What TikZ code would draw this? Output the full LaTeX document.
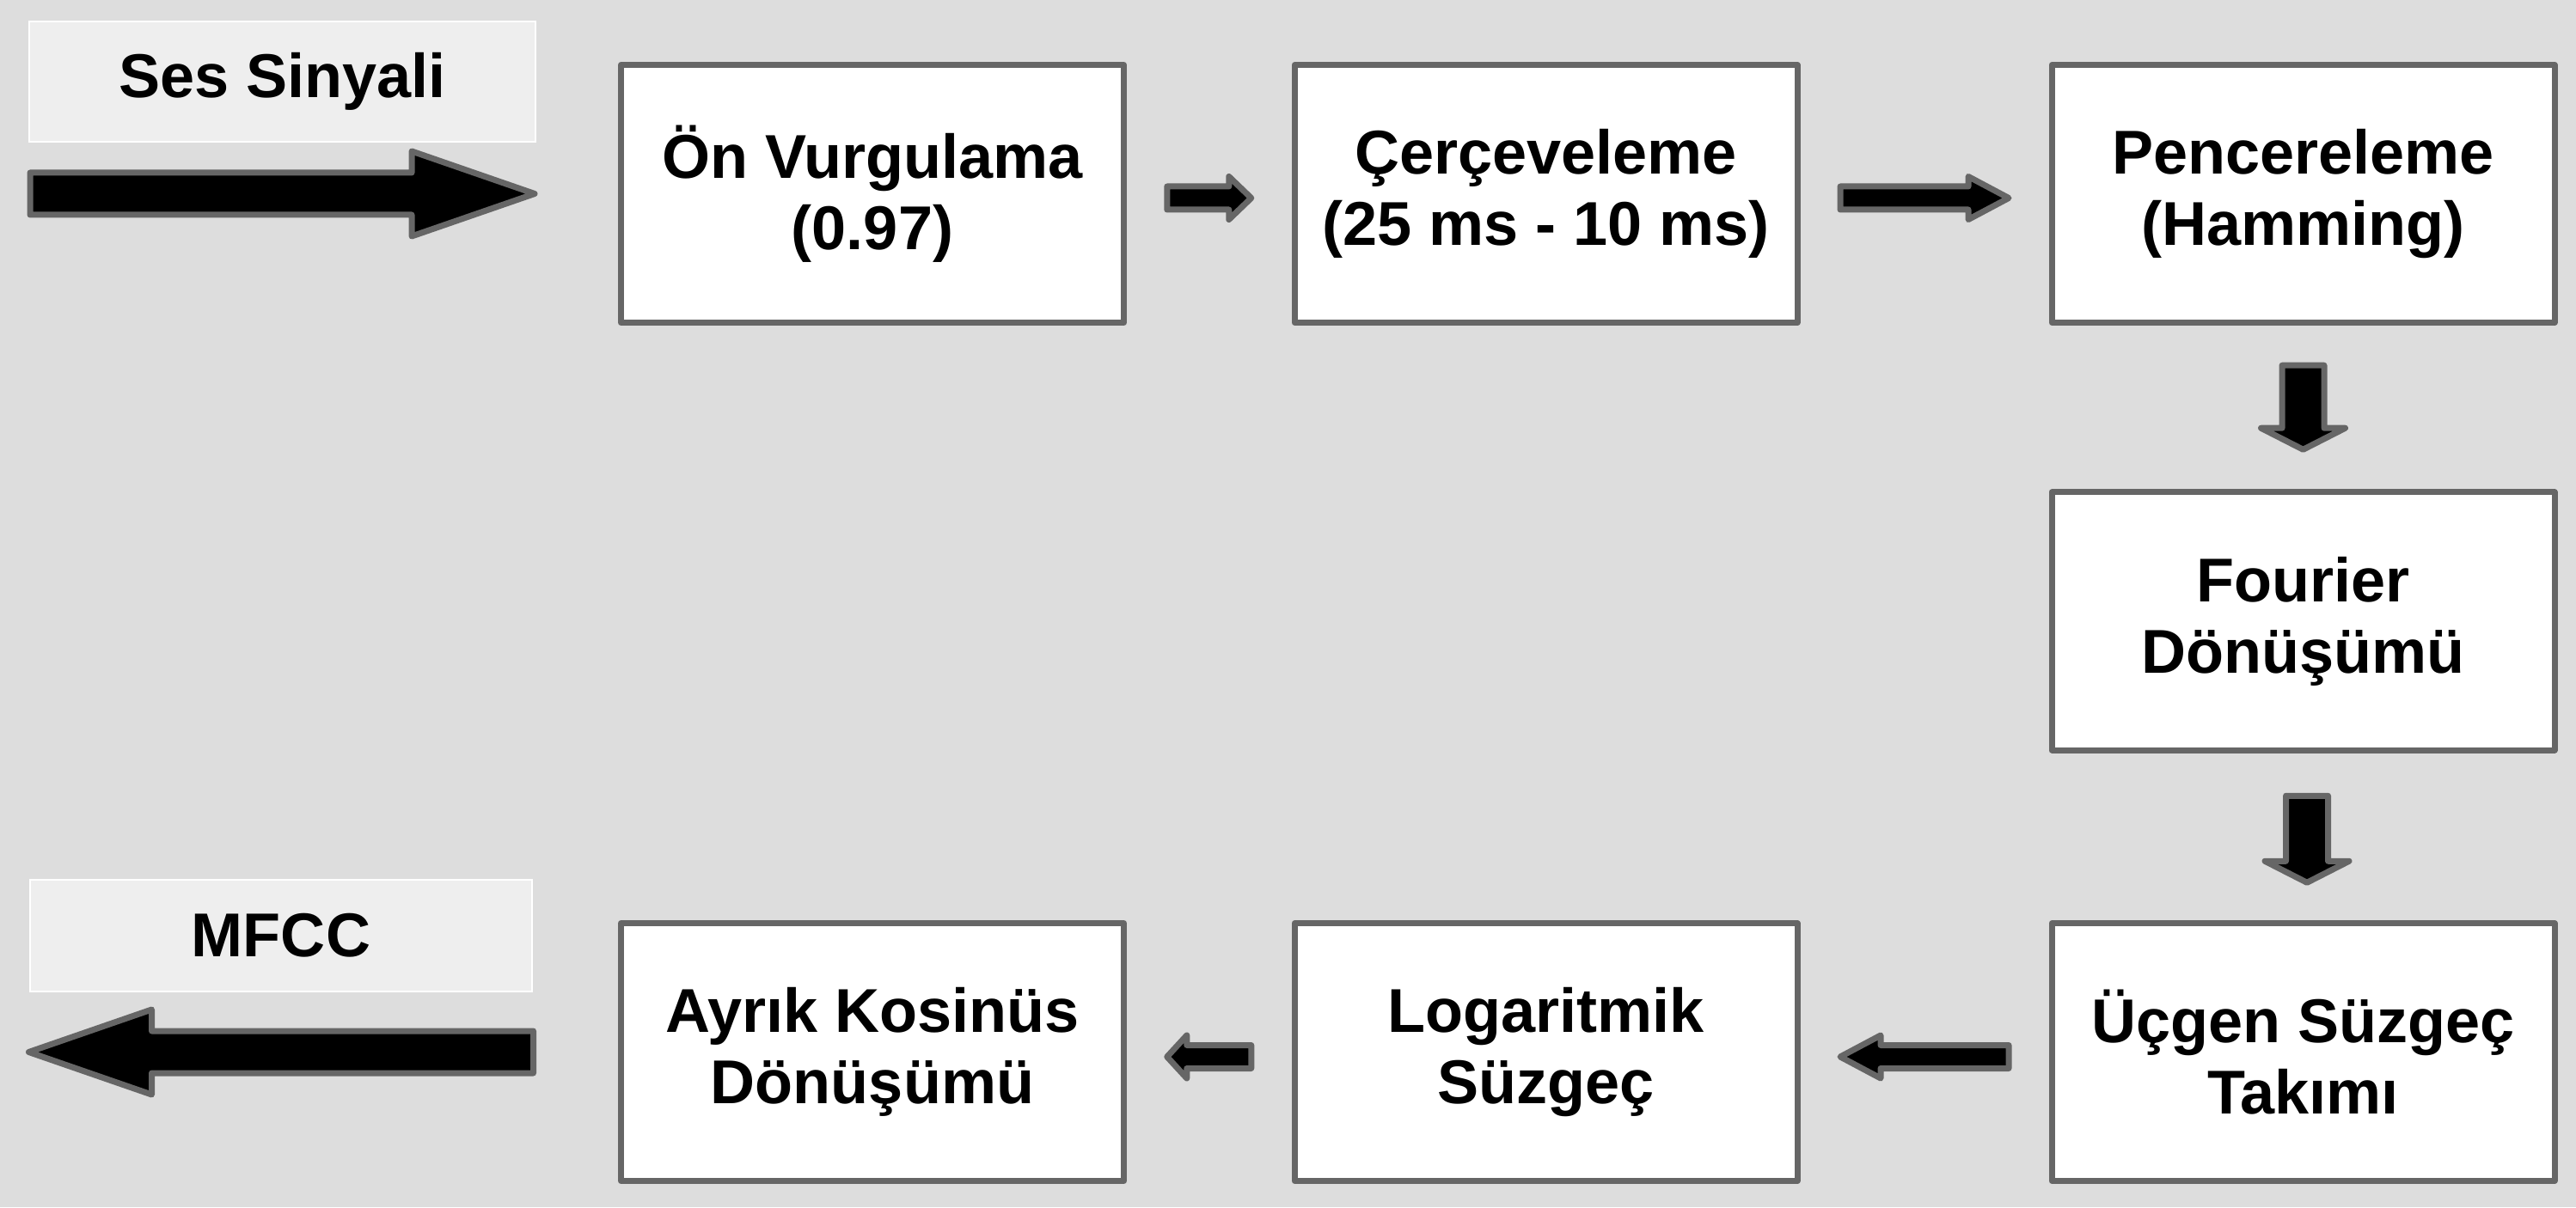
\documentclass[tikz,border=0pt]{standalone}
\usepackage{fontspec}
\setmainfont{Liberation Sans}
\usetikzlibrary{calc}
\definecolor{mfbg}{RGB}{221,221,221}
\definecolor{mfgray}{RGB}{102,102,102}
\definecolor{mftag}{RGB}{238,238,238}
% block arrow: centre, angle, length, shaft half width, head half width, head length
\newcommand{\flowarrow}[6]{%
  \draw[flow, shift={#1}, rotate=#2] (-#3/2,-#4) -- (#3/2-#6,-#4) -- (#3/2-#6,-#5) -- (#3/2,0)
    -- (#3/2-#6,#5) -- (#3/2-#6,#4) -- (-#3/2,#4) -- cycle;}

\begin{document}
\begin{tikzpicture}[
    stage/.style={rectangle, draw=mfgray, fill=white, line width=0.07cm, line join=round,
      minimum width=5.85cm, minimum height=3cm, align=center,
      font=\bfseries\fontsize{20.5}{23.6}\selectfont},
    tag/.style={rectangle, draw=white, fill=mftag, line width=0.5pt,
      minimum width=5.89cm, minimum height=1.4cm, font=\bfseries\fontsize{20.5}{23.6}\selectfont},
    flow/.style={draw=mfgray, fill=black, line width=0.07cm, line join=round}
]
\fill[mfbg] (0,0) rectangle (29.97,14.05);

% Processing stages
\node[stage] (b1) at (10.15,11.795) {Ön Vurgulama\\(0.97)};
\node[stage] (b2) at (17.985,11.795) {Çerçeveleme\\(25 ms - 10 ms)};
\node[stage] (b3) at (26.795,11.795) {Pencereleme\\(Hamming)};
\node[stage] (b4) at (26.795,6.82) {Fourier\\Dönüşümü};
\node[stage] (b5) at (26.795,1.805) {Üçgen Süzgeç\\Takımı};
\node[stage] (b6) at (17.985,1.805) {Logaritmik\\Süzgeç};
\node[stage] (b7) at (10.15,1.805) {Ayrık Kosinüs\\Dönüşümü};

% Input and output
\node[tag] (sig) at (3.285,13.10) {Ses Sinyali};
\node[tag, minimum width=5.84cm, minimum height=1.3cm] (mfcc) at (3.27,3.16) {MFCC};

% Arrow centres
\coordinate (ain) at (sig |- b1);
\coordinate (a12) at ($(b1.east)!0.5!(b2.west)+(0,-0.05)$);
\coordinate (a23) at ($(b2.east)!0.5!(b3.west)+(0,-0.05)$);
\coordinate (a34) at ($(b3.south)!0.5!(b4.north)$);
\coordinate (a45) at ($(b4.south)!0.5!(b5.north)+(0.045,-0.03)$);
\coordinate (a56) at ($(b5.west)!0.5!(b6.east)+(0,-0.055)$);
\coordinate (a67) at ($(b6.west)!0.5!(b7.east)+(0,-0.055)$);
\coordinate (aout) at (mfcc |- b7);

\flowarrow{(ain)}{0}{5.87}{0.245}{0.495}{1.43}
\flowarrow{(a12)}{0}{0.98}{0.135}{0.25}{0.26}
\flowarrow{(a23)}{0}{1.96}{0.135}{0.25}{0.47}
\flowarrow{(a34)}{-90}{0.98}{0.245}{0.49}{0.25}
\flowarrow{(a45)}{-90}{1.01}{0.245}{0.49}{0.25}
\flowarrow{(a56)}{180}{1.96}{0.135}{0.25}{0.47}
\flowarrow{(a67)}{180}{0.98}{0.135}{0.25}{0.23}
\flowarrow{(aout)}{180}{5.87}{0.245}{0.495}{1.43}
\end{tikzpicture}
\end{document}
